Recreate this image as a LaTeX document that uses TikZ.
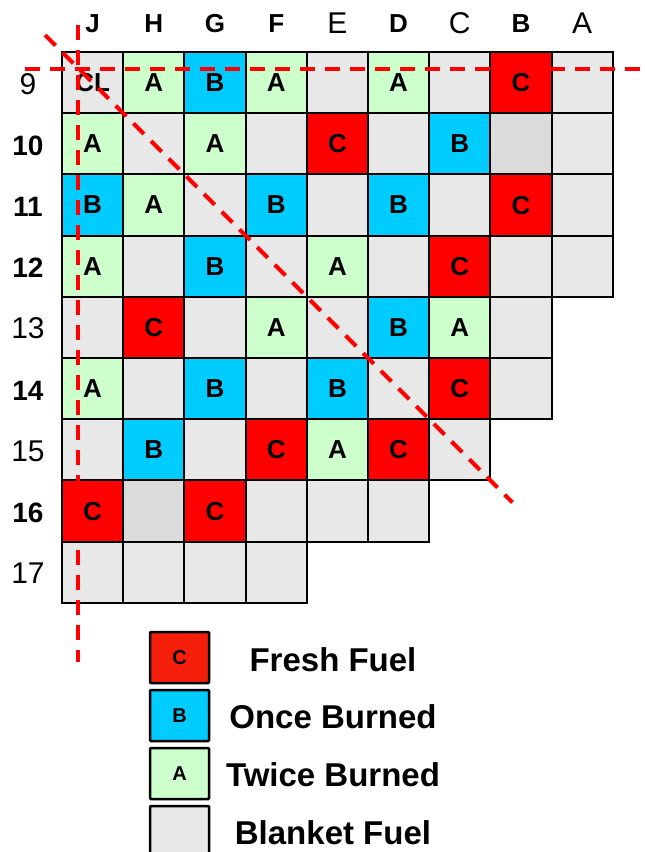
\documentclass[tikz,border=0pt]{standalone}
\usepackage{fontspec}
\setmainfont{Liberation Sans}
\usepackage{tikz}

\definecolor{freshred}{RGB}{255,0,0}
\definecolor{legendred}{RGB}{245,30,10}
\definecolor{onceblue}{RGB}{0,204,255}
\definecolor{twicegreen}{RGB}{204,255,204}
\definecolor{blanketgray}{RGB}{232,232,232}
\definecolor{emptygray}{RGB}{219,219,219}

\tikzset{
  cell/.style={draw=black, line width=2pt, anchor=north west, outer sep=0pt,
    minimum width=61.2pt, minimum height=61.2pt, inner sep=0pt,
    text depth=-2pt, font=\bfseries\fontsize{26}{26}\selectfont},
  cellC/.style={cell, fill=freshred},
  cellB/.style={cell, fill=onceblue},
  cellA/.style={cell, fill=twicegreen},
  cellN/.style={cell, fill=blanketgray},
  cellD/.style={cell, fill=emptygray},
  cutline/.style={red, line width=4pt, dash pattern=on 15pt off 10pt},
  colbold/.style={anchor=base, font=\bfseries\fontsize{26}{26}\selectfont},
  colthin/.style={anchor=base, font=\fontsize{30}{30}\selectfont},
  rowbold/.style={anchor=base, font=\bfseries\fontsize{28}{28}\selectfont},
  rowthin/.style={anchor=base, font=\fontsize{30}{30}\selectfont},
  keybox/.style={draw=black, line width=2.5pt, rounded corners=1pt,
    minimum width=59pt, minimum height=51pt, inner sep=0pt,
    font=\bfseries\fontsize{20}{20}\selectfont},
  keytext/.style={font=\bfseries\fontsize{33}{33}\selectfont}
}

\begin{document}
\begin{tikzpicture}[x=1pt,y=-1pt]
    \useasboundingbox (0,0) rectangle (645,852);

    % Rows of the core map (columns J ... A)
    \foreach \t/\l [count=\c from 0] in {N/CL,A/A,B/B,A/A,N/,A/A,N/,C/C,N/}
        \node[cell\t] (r9c\c) at ({62+61.2*\c},52) {\l};
    \foreach \t/\l [count=\c from 0] in {A/A,N/,A/A,N/,C/C,N/,B/B,D/,N/}
        \node[cell\t] (r10c\c) at ({62+61.2*\c},113.2) {\l};
    \foreach \t/\l [count=\c from 0] in {B/B,A/A,N/,B/B,N/,B/B,N/,C/C,N/}
        \node[cell\t] (r11c\c) at ({62+61.2*\c},174.4) {\l};
    \foreach \t/\l [count=\c from 0] in {A/A,N/,B/B,N/,A/A,N/,C/C,N/,N/}
        \node[cell\t] (r12c\c) at ({62+61.2*\c},235.6) {\l};
    \foreach \t/\l [count=\c from 0] in {N/,C/C,N/,A/A,N/,B/B,A/A,N/}
        \node[cell\t] (r13c\c) at ({62+61.2*\c},296.8) {\l};
    \foreach \t/\l [count=\c from 0] in {A/A,N/,B/B,N/,B/B,N/,C/C,N/}
        \node[cell\t] (r14c\c) at ({62+61.2*\c},358) {\l};
    \foreach \t/\l [count=\c from 0] in {N/,B/B,N/,C/C,A/A,C/C,N/}
        \node[cell\t] (r15c\c) at ({62+61.2*\c},419.2) {\l};
    \foreach \t/\l [count=\c from 0] in {C/C,D/,C/C,N/,N/,N/}
        \node[cell\t] (r16c\c) at ({62+61.2*\c},480.4) {\l};
    \foreach \t/\l [count=\c from 0] in {N/,N/,N/,N/}
        \node[cell\t] (r17c\c) at ({62+61.2*\c},541.6) {\l};

    % Column letters
    \node[colbold] (colJ) at (92.6,32) {J};
    \node[colbold] (colH) at (153.8,32) {H};
    \node[colbold] (colG) at (215,32) {G};
    \node[colbold] (colF) at (276.2,32) {F};
    \node[colthin] (colE) at (337.4,33) {E};
    \node[colbold] (colD) at (398.6,32) {D};
    \node[colthin] (colC) at (459.8,33) {C};
    \node[colbold] (colB) at (521,32) {B};
    \node[colthin] (colA) at (582.2,33) {A};

    % Row numbers
    \node[rowthin] (row9) at (28,94) {9};
    \node[rowbold] (row10) at (28,155.2) {10};
    \node[rowbold] (row11) at (28,216.4) {11};
    \node[rowbold] (row12) at (28,277.6) {12};
    \node[rowthin] (row13) at (28,338.8) {13};
    \node[rowbold] (row14) at (28,400) {14};
    \node[rowthin] (row15) at (28,461.2) {15};
    \node[rowbold] (row16) at (28,522.4) {16};
    \node[rowthin] (row17) at (28,583.6) {17};

    % Symmetry lines
    \coordinate (vTop) at (78,25);
    \coordinate (vBot) at (78,662);
    \coordinate (hLeft) at (25,69);
    \coordinate (hRight) at (645,69);
    \coordinate (dTop) at (45,35);
    \coordinate (dBot) at (512.4,502.4);
    \draw[cutline] (hLeft) -- (hRight);
    \draw[cutline] (vTop) -- (vBot);
    \draw[cutline] (dTop) -- (dBot);

    % Legend
    \node[keybox, fill=legendred] (keyC) at (179.5,657.5) {C};
    \node[keybox, fill=onceblue] (keyB) at (179.5,715.5) {B};
    \node[keybox, fill=twicegreen] (keyA) at (179.5,773.5) {A};
    \node[keybox, fill=blanketgray] (keyN) at (179.5,831.5) {};
    \node[keytext] (txtC) at (333,660) {Fresh Fuel};
    \node[keytext] (txtB) at (333,717) {Once Burned};
    \node[keytext] (txtA) at (333,775) {Twice Burned};
    \node[keytext] (txtN) at (333,833) {Blanket Fuel};
\end{tikzpicture}
\end{document}
